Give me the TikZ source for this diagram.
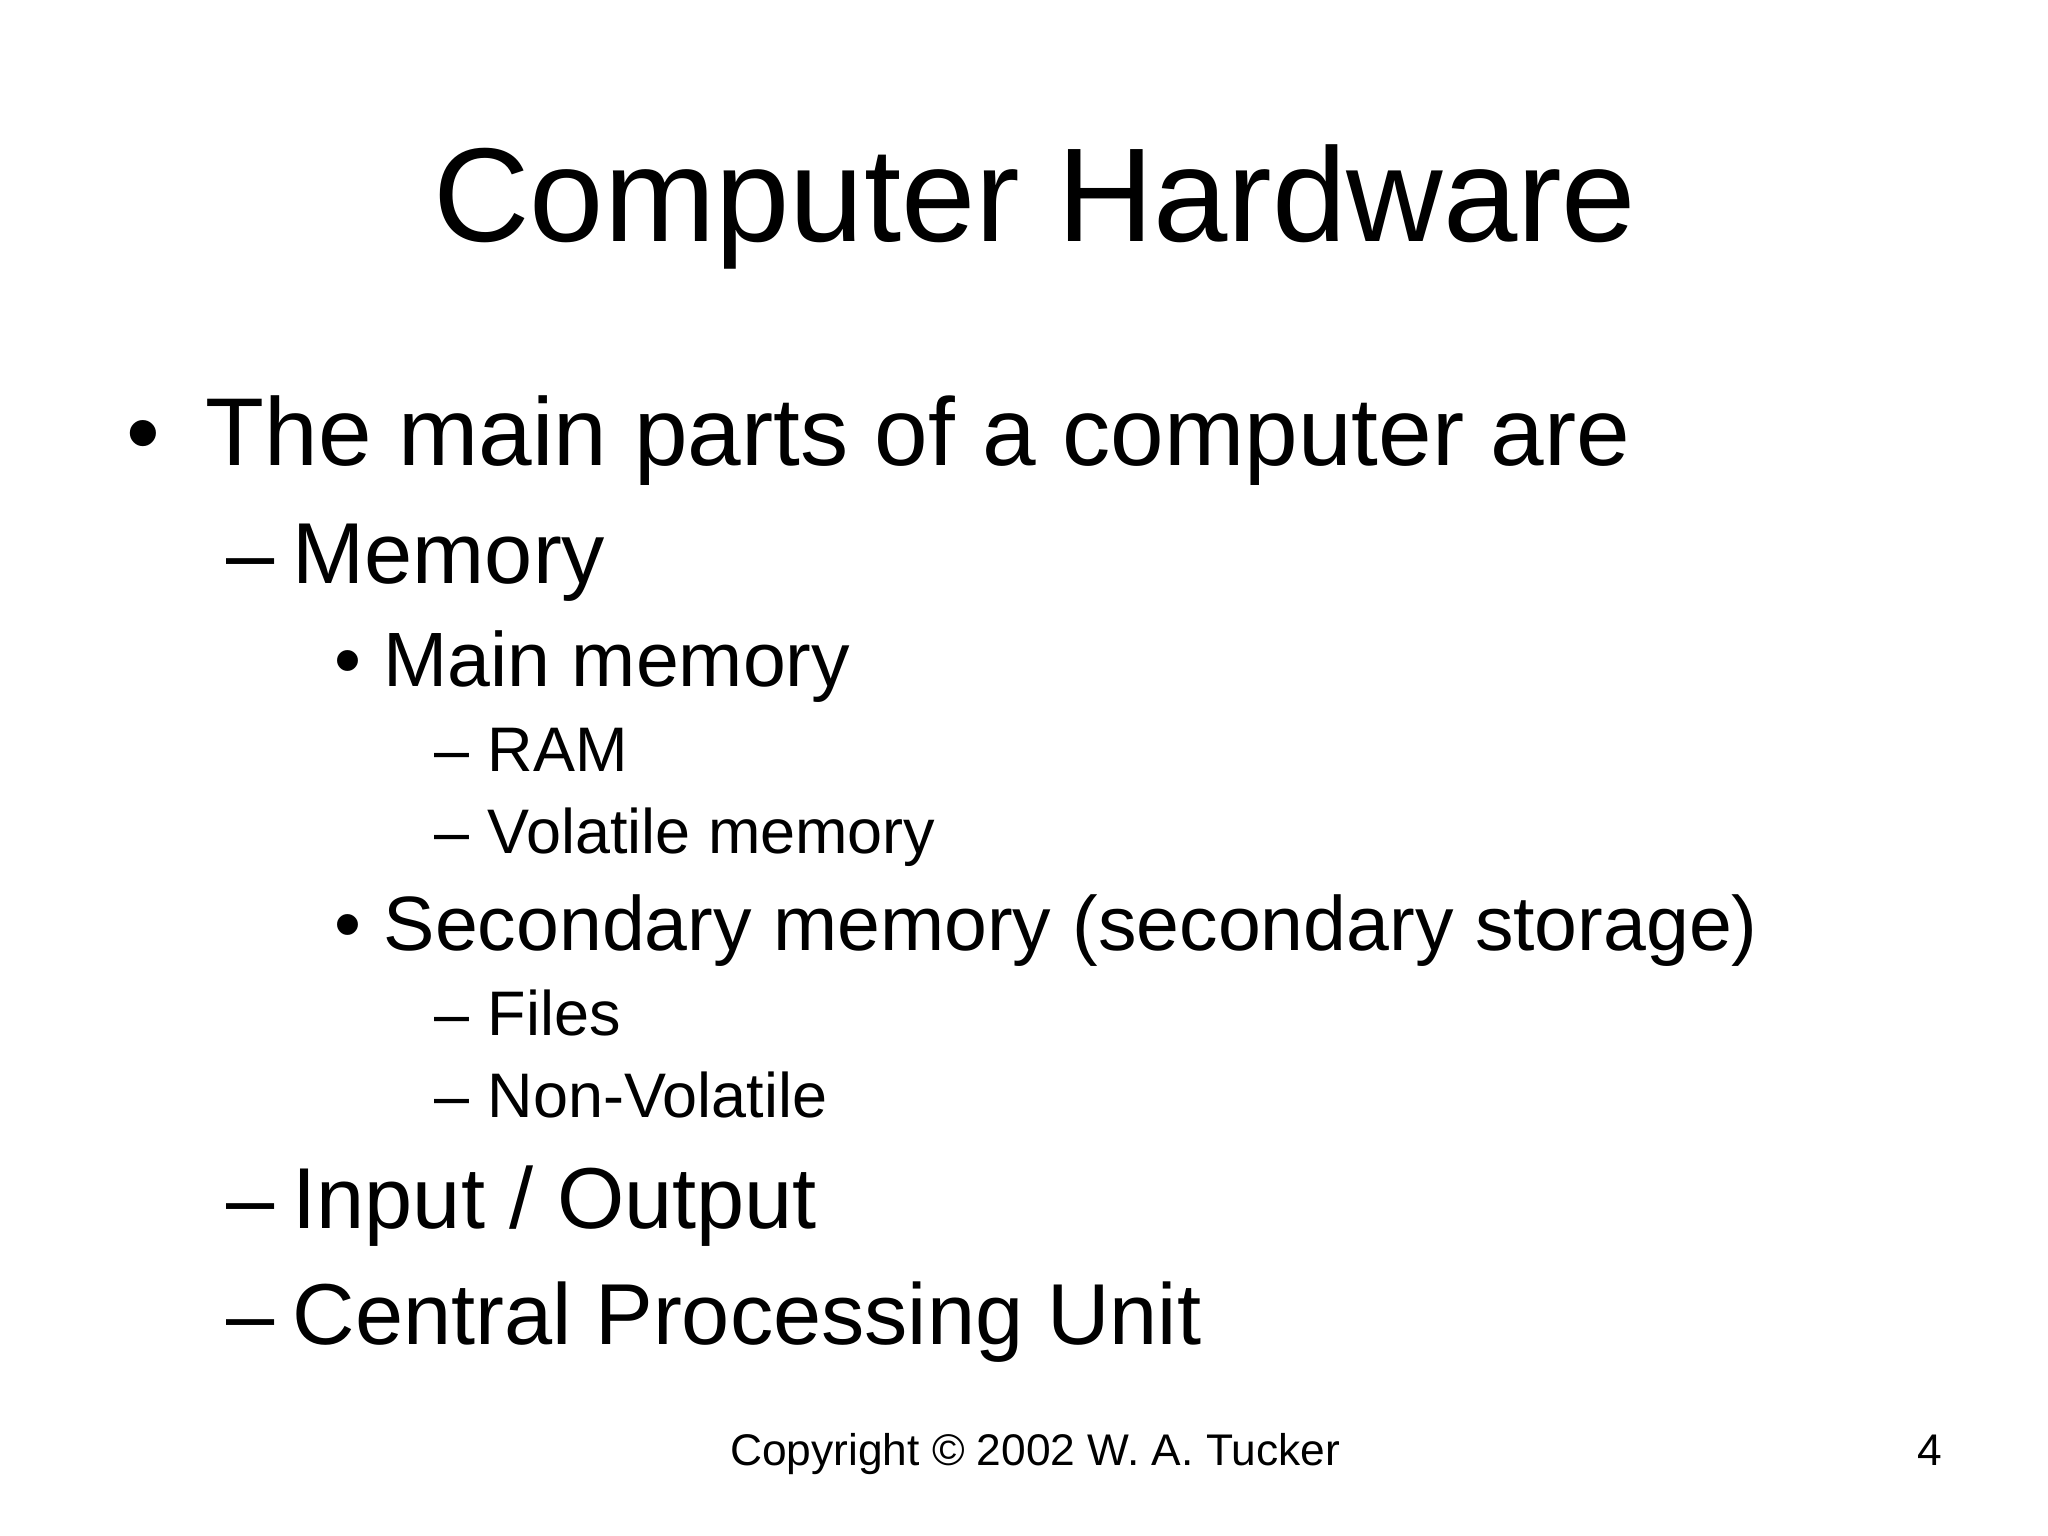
\documentclass[tikz,border=0pt]{standalone}
\usepackage{fontspec}
\setmainfont{Liberation Sans}
\begin{document}
\begin{tikzpicture}[x=0.01cm,y=-0.01cm,
  t/.style={anchor=base west,inner sep=0pt},
  lA/.style={t,font=\fontsize{27.4}{30}\selectfont},
  lB/.style={t,font=\fontsize{24.6}{28}\selectfont},
  lC/.style={t,font=\fontsize{21.9}{25}\selectfont},
  lD/.style={t,font=\fontsize{17.9}{21}\selectfont}]
\useasboundingbox (0,0) rectangle (2048,1536);
\node[anchor=base,inner sep=0pt,font=\fontsize{38}{42}\selectfont] (title) at (1035,241) {Computer Hardware};
\node[lA] (b1) at (126,465) {•};
\node[lA] (l1) at (205,465) {The main parts of a computer are};
\node[lB] (d1) at (226,583) {–};
\node[lB] (m) at (292,583) {Memory};
\node[lC] (b2) at (334,686) {•};
\node[lC] (mm) at (383,686) {Main memory};
\node[lD] (d2) at (434,771) {–};
\node[lD] (ram) at (487,771) {RAM};
\node[lD] (d3) at (434,853) {–};
\node[lD] (vol) at (487,853) {Volatile memory};
\node[lC] (b3) at (334,950) {•};
\node[lC] (sm) at (383,950) {Secondary memory (secondary storage)};
\node[lD] (d4) at (434,1035) {–};
\node[lD] (fi) at (487,1035) {Files};
\node[lD] (d5) at (434,1117) {–};
\node[lD] (nv) at (487,1117) {Non-Volatile};
\node[lB] (d6) at (226,1228) {–};
\node[lB] (io) at (292,1228) {Input / Output};
\node[lB] (d7) at (226,1344) {–};
\node[lB] (cpu) at (292,1344) {Central Processing Unit};
\node[anchor=base,inner sep=0pt,font=\fontsize{12.6}{15}\selectfont] (copy) at (1035,1465) {Copyright © 2002 W. A. Tucker};
\node[anchor=base east,inner sep=0pt,font=\fontsize{12.6}{15}\selectfont] (pg) at (1943,1465) {4};
\end{tikzpicture}
\end{document}
